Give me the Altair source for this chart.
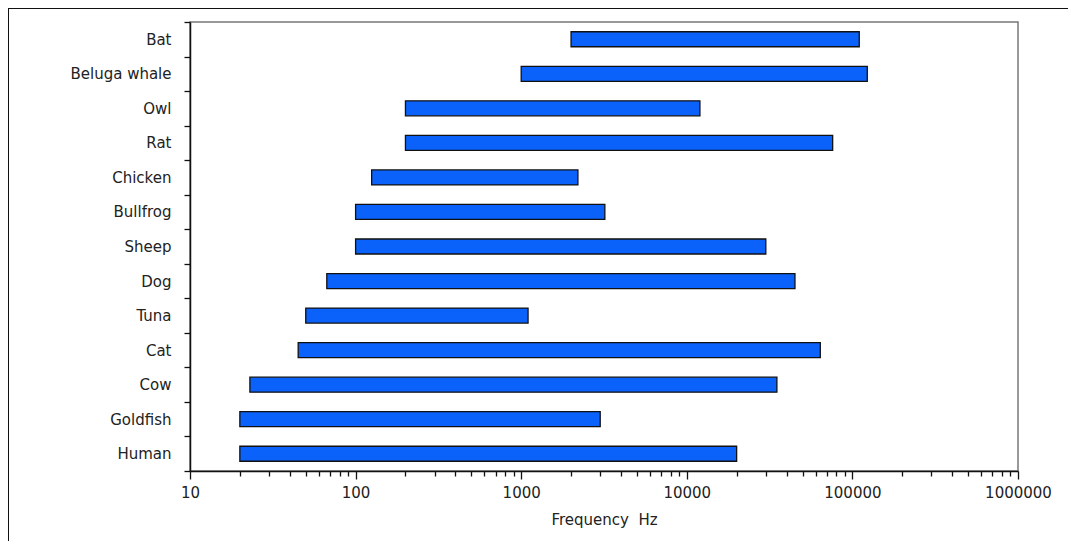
import altair as alt
import pandas as pd

animals = ["Bat", "Beluga whale", "Owl", "Rat", "Chicken", "Bullfrog", "Sheep",
           "Dog", "Tuna", "Cat", "Cow", "Goldfish", "Human"]
low_hz = [2000, 1000, 200, 200, 125, 100, 100, 67, 50, 45, 23, 20, 20]
high_hz = [110000, 123000, 12000, 76000, 2200, 3200, 30000, 45000, 1100, 64000, 35000, 3000, 20000]

decades = [10, 100, 1000, 10000, 100000, 1000000]
tick_values = [d * m for d in decades[:-1] for m in range(1, 10)] + [1000000]

df = pd.DataFrame({"animal": animals, "low": low_hz, "high": high_hz})

FONT = "DejaVu Sans"
IS_DECADE = "abs(log(datum.value)/LN10 - round(log(datum.value)/LN10)) < 0.001"

bars = alt.Chart(df).mark_bar(
    size=15, color="#0a62fa", stroke="#111111", strokeWidth=1.3
).encode(
    y=alt.Y("animal:N", sort=animals, title=None,
            scale=alt.Scale(paddingInner=0, paddingOuter=0),
            axis=alt.Axis(tickBand="extent", tickSize=6, tickColor="#111111",
                          domainColor="#111111", domainWidth=1.5, tickWidth=1.3,
                          labelFont=FONT, labelFontSize=15, labelColor="#222222",
                          labelPadding=13, grid=False)),
    x=alt.X("low:Q", title="Frequency\u00a0\u00a0Hz",
            scale=alt.Scale(type="log", domain=[10, 1000000], nice=False),
            axis=alt.Axis(values=tick_values, grid=False,
                          labelExpr=IS_DECADE + " ? format(datum.value, 'd') : ''",
                          tickSize={"condition": {"test": IS_DECADE, "value": 8}, "value": 5},
                          tickColor="#111111", tickWidth=1.3,
                          domainColor="#111111", domainWidth=1.5,
                          labelFont=FONT, labelFontSize=15, labelColor="#222222",
                          labelPadding=6, labelFlush=False, labelOverlap=False,
                          titleFont=FONT, titleFontSize=15, titleFontWeight="normal",
                          titleColor="#222222", titlePadding=12)),
    x2="high:Q",
)

frame_left = alt.Chart(df).mark_rule(color="#111111", strokeWidth=2).encode(
    x=alt.value(-182), y=alt.value(-14), y2=alt.value(540))
frame_top = alt.Chart(df).mark_rule(color="#111111", strokeWidth=2).encode(
    x=alt.value(-182), x2=alt.value(900), y=alt.value(-14))

chart = alt.layer(frame_left, frame_top, bars).properties(
    width=828, height=449,
    autosize=alt.AutoSizeParams(type="none"),
    padding={"left": 182, "top": 14, "right": 50, "bottom": 70},
).configure_view(stroke="#777777", strokeWidth=1.5)

chart.save("out.html", embed_options={"renderer": "svg", "actions": False})
